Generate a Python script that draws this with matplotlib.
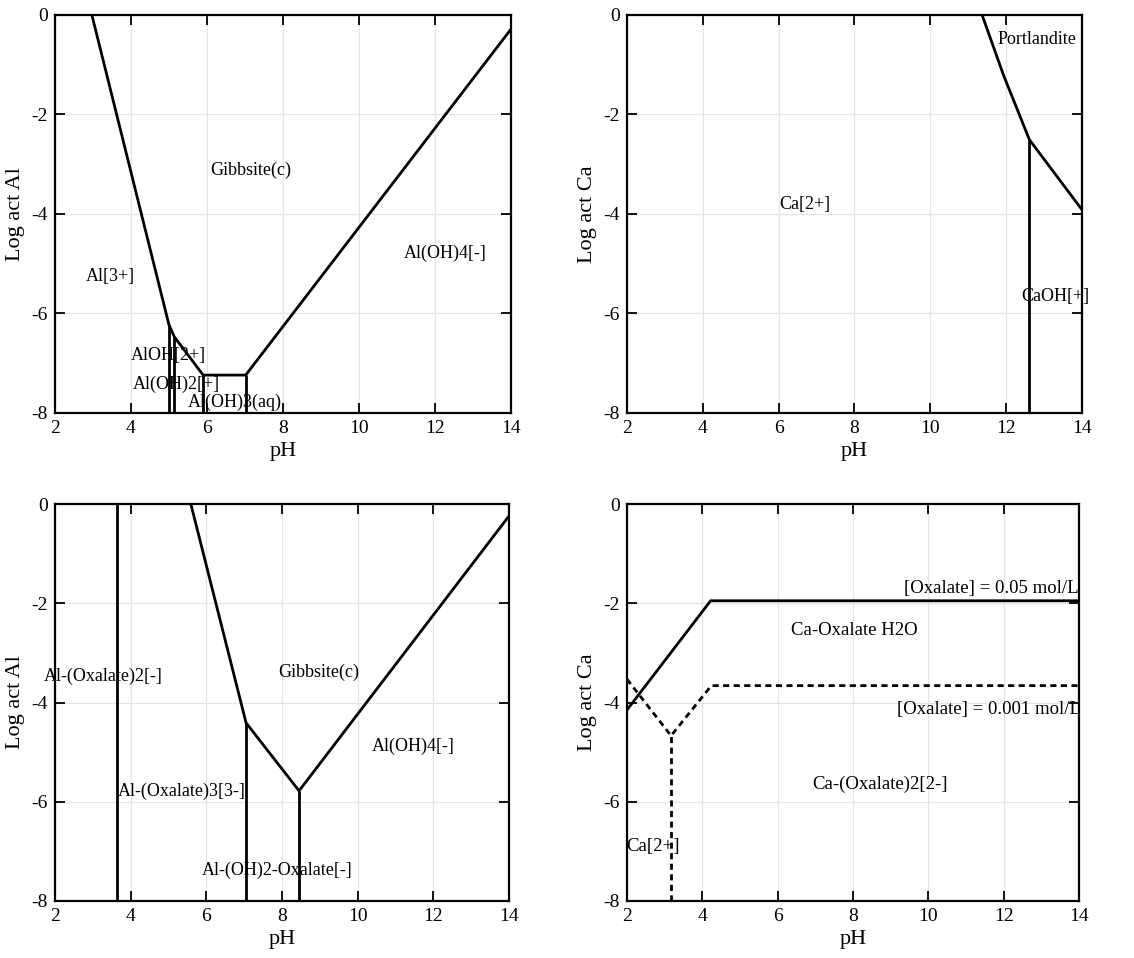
import matplotlib
matplotlib.use("Agg")
import matplotlib.pyplot as plt

plt.rcParams['font.family'] = ['Liberation Serif', 'DejaVu Serif']
plt.rcParams['axes.unicode_minus'] = False

# --- panel A: Al, no oxalate ---
al_main_x = [2.97, 5.0, 5.14, 5.9, 7.02, 14.0]
al_main_y = [0.0, -6.23, -6.47, -7.24, -7.24, -0.29]
al_vert_x = [5.0, 5.14, 5.9, 7.02]
al_vert_top = [-6.23, -6.47, -7.24, -7.24]
al_labels = ["Gibbsite(c)", "Al(OH)4[-]", "Al[3+]", "AlOH[2+]", "Al(OH)2[+]", "Al(OH)3(aq)"]
al_label_x = [7.15, 12.26, 3.45, 4.98, 5.2, 6.74]
al_label_y = [-3.13, -4.79, -5.26, -6.85, -7.42, -7.79]

# --- panel B: Ca, no oxalate ---
ca_main_x = [11.37, 11.94, 12.62, 14.0]
ca_main_y = [0.0, -1.22, -2.51, -3.91]
ca_vert_x = [12.62]
ca_vert_top = [-2.51]
ca_labels = ["Portlandite", "Ca[2+]", "CaOH[+]"]
ca_label_x = [12.82, 6.7, 13.3]
ca_label_y = [-0.5, -3.82, -5.66]

# --- panel C: Al with oxalate ---
alox_main_x = [5.59, 7.05, 8.45, 14.0]
alox_main_y = [0.0, -4.41, -5.78, -0.24]
alox_vert_x = [3.65, 7.05, 8.45]
alox_vert_top = [0.0, -4.41, -5.78]
alox_labels = ["Al-(Oxalate)2[-]", "Gibbsite(c)", "Al(OH)4[-]", "Al-(Oxalate)3[3-]", "Al-(OH)2-Oxalate[-]"]
alox_label_x = [3.28, 8.96, 11.47, 5.35, 7.86]
alox_label_y = [-3.48, -3.40, -4.89, -5.8, -7.38]

# --- panel D: Ca with oxalate ---
ox05_x = [2.0, 4.22, 14.0]
ox05_y = [-4.15, -1.95, -1.95]
ox001_x = [2.0, 3.17, 4.24, 14.0]
ox001_y = [-3.53, -4.67, -3.66, -3.66]
ox001_vert_x = [3.17]
ox001_vert_top = [-4.67]
caox_labels = ["[Oxalate] = 0.05 mol/L", "Ca-Oxalate H2O", "[Oxalate] = 0.001 mol/L", "Ca-(Oxalate)2[2-]", "Ca[2+]"]
caox_label_x = [11.66, 8.03, 11.6, 8.72, 2.7]
caox_label_y = [-1.70, -2.55, -4.15, -5.65, -6.91]

fig = plt.figure(figsize=(11.34, 9.58), dpi=100)
ax_a = fig.add_axes([0.0485, 0.569, 0.402, 0.4155])
ax_b = fig.add_axes([0.5529, 0.569, 0.401, 0.4155])
ax_c = fig.add_axes([0.0485, 0.0595, 0.4004, 0.4144])
ax_d = fig.add_axes([0.5529, 0.0595, 0.3986, 0.4144])

lw = 2.0
dash = (0, (2.2, 1.6))


def style(ax, ylab):
    ax.set_xlim(2, 14)
    ax.set_ylim(-8, 0)
    ax.set_xticks(range(2, 15, 2))
    ax.set_yticks(range(-8, 1, 2))
    ax.grid(True, color='#e4e4e4', lw=0.9)
    ax.set_axisbelow(True)
    ax.tick_params(direction='in', length=7, width=1.3, top=True, right=True,
                   labelsize=14, pad=5)
    for s in ax.spines.values():
        s.set_linewidth(1.6)
    ax.set_xlabel("pH", fontsize=16, labelpad=4)
    ax.set_ylabel(ylab, fontsize=16)
    ax.yaxis.set_label_coords(-0.066, 0.5)


def labels(ax, txt, xs, ys, size=13):
    for t, x, y in zip(txt, xs, ys):
        ax.text(x, y, t, ha='center', va='center', fontsize=size)


# A
ax_a.plot(al_main_x, al_main_y, color='k', lw=lw)
ax_a.vlines(al_vert_x, -8, al_vert_top, color='k', lw=lw)
labels(ax_a, al_labels, al_label_x, al_label_y)
style(ax_a, "Log act Al")

# B
ax_b.plot(ca_main_x, ca_main_y, color='k', lw=lw)
ax_b.vlines(ca_vert_x, -8, ca_vert_top, color='k', lw=lw)
labels(ax_b, ca_labels, ca_label_x, ca_label_y)
style(ax_b, "Log act Ca")

# C
ax_c.plot(alox_main_x, alox_main_y, color='k', lw=lw)
ax_c.vlines(alox_vert_x, -8, alox_vert_top, color='k', lw=lw)
labels(ax_c, alox_labels, alox_label_x, alox_label_y)
style(ax_c, "Log act Al")

# D
ax_d.plot(ox05_x, ox05_y, color='k', lw=lw)
ax_d.plot(ox001_x, ox001_y, color='k', lw=lw, linestyle=dash)
ax_d.vlines(ox001_vert_x, -8, ox001_vert_top, color='k', lw=lw, linestyle=dash)
labels(ax_d, caox_labels, caox_label_x, caox_label_y, size=13.5)
style(ax_d, "Log act Ca")

fig.savefig("out.png", dpi=100)
